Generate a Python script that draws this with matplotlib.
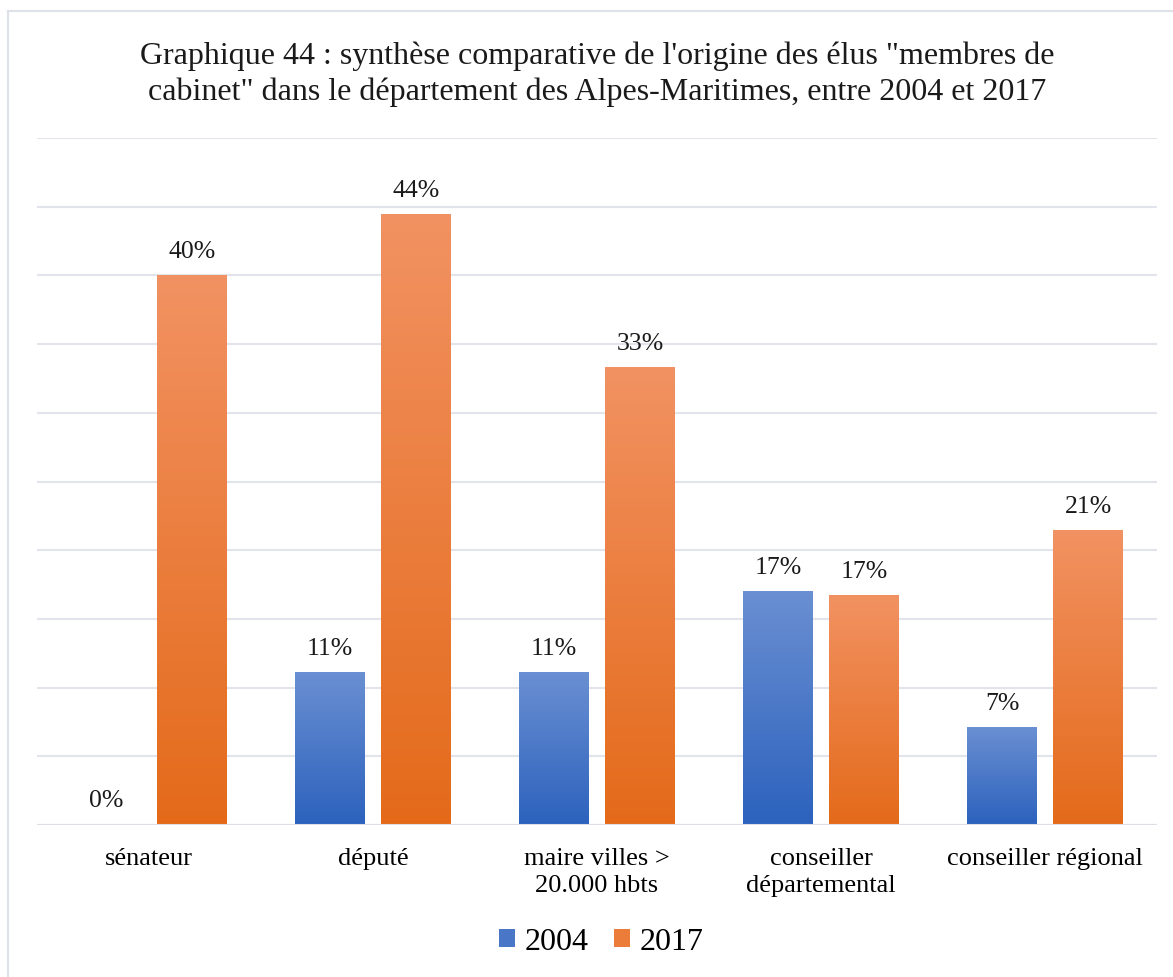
import numpy as np
import matplotlib.pyplot as plt
from matplotlib.colors import LinearSegmentedColormap
from matplotlib.lines import Line2D
from matplotlib.patches import Patch

plt.rcParams['font.family'] = ['Liberation Serif', 'DejaVu Serif']

categories = ['sénateur', 'député', 'maire villes >\n20.000 hbts',
              'conseiller\ndépartemental', 'conseiller régional']
years = ['2004', '2017']
v2004 = [0.0, 11.1, 11.1, 17.0, 7.1]
v2017 = [40.0, 44.4, 33.3, 16.7, 21.4]

blue_cm = LinearSegmentedColormap.from_list('b', ['#2c62bd', '#6a8fd2'])
orange_cm = LinearSegmentedColormap.from_list('o', ['#e46a1a', '#f29262'])

fig = plt.figure(figsize=(11.73, 9.78), dpi=100)
ax = fig.add_axes([37/1173, 1-826/978, 1120/1173, 687/978])

# outer frame (only top and left edges are visible)
fig.add_artist(Line2D([8/1173, 1], [1-12/978, 1-12/978], color='#dde2e8', lw=1.5))
fig.add_artist(Line2D([8/1173, 8/1173], [0, 1-12/978], color='#dde2e8', lw=1.5))

x = np.arange(len(categories))
w = 0.3125
off = 0.192
grad = np.linspace(0, 1, 256).reshape(-1, 1)

def gbar(xc, h, cmap):
    if h <= 0:
        return
    ax.imshow(grad, cmap=cmap, origin='lower', aspect='auto',
              extent=[xc - w/2, xc + w/2, 0, h], zorder=2)

for i in range(len(categories)):
    gbar(x[i] - off, v2004[i], blue_cm)
    gbar(x[i] + off, v2017[i], orange_cm)
    ax.text(x[i] - off, v2004[i] + 1.8, f'{round(v2004[i])}%', ha='center',
            va='center', fontsize=18.5, color='#1a1a1a')
    ax.text(x[i] + off, v2017[i] + 1.8, f'{round(v2017[i])}%', ha='center',
            va='center', fontsize=18.5, color='#1a1a1a')

ax.set_xlim(-0.5, len(categories) - 0.5)
ax.set_ylim(0, 50)
ax.set_yticks(np.arange(0, 51, 5))
ax.yaxis.grid(True, color='#e1e4ea', lw=1.5)
ax.set_axisbelow(True)
ax.tick_params(left=False, labelleft=False, bottom=False)
for s in ax.spines.values():
    s.set_visible(False)
ax.axhline(0, color='#dcdfe5', lw=1.5, zorder=3)
ax.set_xticks(x)
ax.set_xticklabels(categories, fontsize=19, linespacing=1.3)
ax.tick_params(axis='x', pad=12)

fig.text(597/1173, 1-74/978, 'Graphique 44 : synthèse comparative de l\'origine des élus "membres de\n'
         'cabinet" dans le département des Alpes-Maritimes, entre 2004 et 2017',
         ha='center', va='center', fontsize=23, linespacing=1.3, color='#1a1a1a')

handles = [Patch(facecolor='#4a76c8'), Patch(facecolor='#ec7c3a')]
fig.legend(handles, years, loc='center', bbox_to_anchor=(601/1173, 1-943/978), ncol=2,
           frameon=False, fontsize=23, handlelength=0.5, handleheight=0.5,
           handletextpad=0.3, columnspacing=0.8)

fig.savefig('out.png', dpi=100)
